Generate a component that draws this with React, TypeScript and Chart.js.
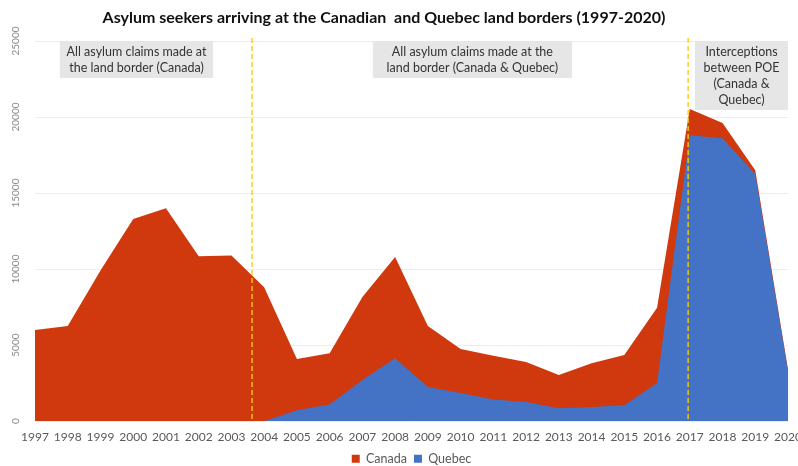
import React, { useEffect, useRef } from "react";
import { Chart, registerables } from "chart.js";

Chart.register(...registerables);

const years = [
  "1997", "1998", "1999", "2000", "2001", "2002", "2003", "2004",
  "2005", "2006", "2007", "2008", "2009", "2010", "2011", "2012",
  "2013", "2014", "2015", "2016", "2017", "2018", "2019", "2020",
];

const canada = [
  6000, 6250, 9900, 13300, 14000, 10850, 10900, 8800,
  4080, 4470, 8160, 10790, 6250, 4740, 4300, 3880,
  3030, 3800, 4340, 7450, 20530, 19600, 16500, 3400,
];

const quebec = [
  null, null, null, null, null, null, null, 0,
  720, 1100, 2700, 4140, 2240, 1840, 1420, 1250,
  850, 920, 1050, 2500, 18800, 18600, 16250, 3300,
];

const yTicks = [0, 5000, 10000, 15000, 20000, 25000];

const titleText = "Asylum seekers arriving at the Canadian  and Quebec land borders (1997-2020)";

const notes = [
  { x0: 0.76, x1: 5.44, lines: ["All asylum claims made at", "the land border (Canada)"] },
  { x0: 10.32, x1: 16.4, lines: ["All asylum claims made at the", "land border (Canada & Quebec)"] },
  { x0: 20.16, x1: 23.0, lines: ["Interceptions", "between POE", "(Canada &", "Quebec)"] },
];

const dividers = [6.63, 19.95];

const FONT = "'Lato', 'Open Sans', sans-serif";

const overlayPlugin = {
  id: "overlay",
  beforeDatasetsDraw(chart: any) {
    const { ctx, scales } = chart;
    const x = scales.x;
    const y = scales.y;
    const top = y.getPixelForValue(25000);
    ctx.save();
    for (const n of notes) {
      const l = x.getPixelForValue(n.x0);
      const r = x.getPixelForValue(n.x1);
      const lh = 16;
      const h = n.lines.length * lh + 5;
      ctx.fillStyle = "#e6e6e6";
      ctx.fillRect(l, top, r - l, h);
      ctx.fillStyle = "#333333";
      ctx.font = `12.5px ${FONT}`;
      ctx.textAlign = "center";
      ctx.textBaseline = "middle";
      n.lines.forEach((t, i) => {
        ctx.fillText(t, (l + r) / 2, top + 3 + lh * i + lh / 2);
      });
    }
    ctx.restore();
  },
  afterDraw(chart: any) {
    const { ctx, scales } = chart;
    const x = scales.x;
    const y = scales.y;
    ctx.save();
    // title
    ctx.fillStyle = "#111";
    ctx.font = `bold 16px ${FONT}`;
    ctx.textAlign = "center";
    ctx.textBaseline = "middle";
    ctx.fillText(titleText, 384, 18);
    // dashed dividers
    ctx.strokeStyle = "rgba(250, 200, 20, 0.85)";
    ctx.lineWidth = 1.6;
    ctx.setLineDash([5, 3]);
    for (const d of dividers) {
      const px = x.getPixelForValue(d);
      ctx.beginPath();
      ctx.moveTo(px, y.getPixelForValue(25000) - 3);
      ctx.lineTo(px, y.getPixelForValue(0));
      ctx.stroke();
    }
    ctx.setLineDash([]);
    // rotated y tick labels
    ctx.fillStyle = "#8a8a8a";
    ctx.font = `10px ${FONT}`;
    for (const v of yTicks) {
      const py = y.getPixelForValue(v);
      ctx.save();
      ctx.translate(16, py);
      ctx.rotate(-Math.PI / 2);
      ctx.fillText(String(v), 0, 0);
      ctx.restore();
    }
    ctx.restore();
  },
};

export default function App() {
  const ref = useRef<HTMLCanvasElement>(null);
  useEffect(() => {
    document.body.style.margin = "0";
    const canvas = ref.current!;
    const chart = new Chart(canvas, {
      type: "line",
      data: {
        labels: years,
        datasets: [
          {
            label: "Canada",
            data: canada,
            backgroundColor: "#D0390D",
            borderColor: "#D0390D",
            borderWidth: 0,
            pointRadius: 0,
            fill: "origin",
            tension: 0,
            order: 2,
          },
          {
            label: "Quebec",
            data: quebec as any,
            backgroundColor: "#4472C4",
            borderColor: "#4472C4",
            borderWidth: 0,
            pointRadius: 0,
            fill: "origin",
            tension: 0,
            order: 1,
          },
        ],
      },
      options: {
        responsive: false,
        animation: false,
        devicePixelRatio: 1,
        layout: { padding: { left: 35, right: 10, top: 41, bottom: -9 } },
        scales: {
          x: {
            type: "category",
            offset: false,
            grid: { display: false },
            border: { display: false },
            ticks: {
              autoSkip: false,
              maxRotation: 0,
              minRotation: 0,
              padding: 1,
              color: "#595959",
              font: { family: FONT, size: 12 },
            },
            afterFit(scale: any) {
              scale.paddingLeft = 0;
              scale.paddingRight = 0;
            },
          },
          y: {
            min: 0,
            max: 25000,
            grid: { color: "#ececec", drawTicks: false, lineWidth: 1 },
            border: { display: false },
            ticks: { display: false, stepSize: 5000 },
            afterFit(scale: any) {
              scale.width = 0;
            },
          },
        },
        plugins: {
          title: { display: false },
          legend: {
            position: "bottom",
            labels: {
              boxWidth: 8,
              boxHeight: 8,
              color: "#595959",
              font: { family: FONT, size: 12.5 },
              padding: 7,
              sort: (a: any, b: any) => a.datasetIndex - b.datasetIndex,
            },
          },
          tooltip: { enabled: false },
        },
      },
      plugins: [overlayPlugin],
    });
    return () => chart.destroy();
  }, []);
  return (
    <div style={{ width: 798, height: 466 }}>
      <canvas ref={ref} width={798} height={466} />
    </div>
  );
}
